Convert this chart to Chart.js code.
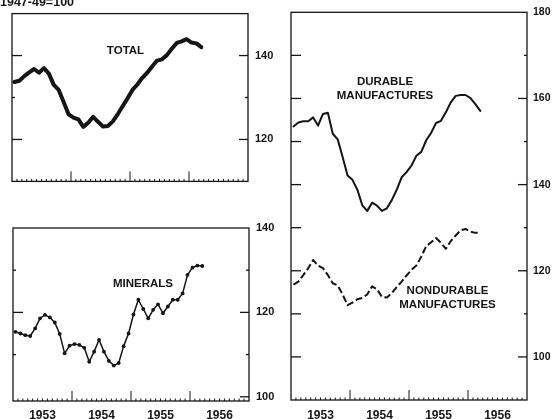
<!DOCTYPE html>
<html>
<head>
<meta charset="utf-8">
<script src="https://cdn.jsdelivr.net/npm/chart.js@4.4.1/dist/chart.umd.min.js"></script>
<style>
  body { margin: 0; background: #fff; }
  #wrap { position: relative; width: 554px; height: 419px; overflow: hidden; background: #fff; }
  canvas { position: absolute; }
</style>
</head>
<body>
<div id="wrap">
  <canvas id="totalChart" width="280" height="195" style="left:0;top:0"></canvas>
  <canvas id="mineralsChart" width="280" height="219" style="left:0;top:200px"></canvas>
  <canvas id="mfgChart" width="274" height="419" style="left:280px;top:0"></canvas>
</div>
<script>
// Monthly index values, Jan 1953 - Mar 1956 (1947-49=100)
const yearLabels = ["1953", "1954", "1955", "1956"];

const totalValues = [133.7, 134.0, 135.1, 136.0, 136.8, 135.9, 137.0, 135.7, 133.0, 131.8,
    128.9, 126.0, 125.2, 124.8, 123.0, 124.0, 125.4, 124.2, 123.1, 123.2,
    124.3, 126.0, 127.9, 129.8, 131.8, 133.1, 134.7, 135.9, 137.4, 138.8,
    139.1, 140.1, 141.6, 143.0, 143.4, 143.9, 143.1, 142.9, 142.0];

const mineralsValues = [115.4, 115.0, 114.6, 114.4, 116.2, 118.6, 119.4, 118.8, 117.6, 114.9,
    110.3, 112.1, 112.5, 112.3, 111.6, 108.3, 110.7, 113.5, 110.7, 108.5,
    107.4, 108.0, 112.0, 115.0, 119.5, 123.0, 120.8, 118.6, 120.6, 121.9,
    119.8, 121.4, 123.0, 123.0, 124.5, 128.9, 130.6, 131.1, 131.0];

const durableValues = [153.5, 154.4, 154.7, 154.7, 155.6, 153.7, 156.4, 156.7, 151.8, 150.5,
    146.4, 142.1, 141.1, 138.8, 135.2, 133.9, 135.8, 135.1, 133.9, 134.5,
    136.4, 138.8, 141.7, 142.9, 144.4, 146.7, 147.6, 150.3, 152.0, 154.3,
    154.8, 156.8, 159.1, 160.6, 160.8, 160.8, 160.1, 158.7, 157.1];

const nondurableValues = [116.8, 117.5, 119.0, 120.6, 122.5, 121.2, 120.6, 119.0, 117.1, 116.6,
    114.5, 112.0, 112.6, 113.4, 113.7, 114.5, 116.4, 115.7, 113.9, 113.8,
    114.8, 116.2, 117.5, 118.9, 120.2, 121.2, 123.3, 125.7, 126.6, 127.6,
    126.5, 125.1, 126.9, 128.2, 129.4, 129.7, 129.1, 128.8, 128.8];

// axis ticks
const totalTicks = [120, 140];
const totalMinor = [130];
const mineralsTicks = [100, 120, 140];
const mineralsMinor = [110, 130];
const mfgTicks = [100, 120, 140, 160, 180];
const mfgMinor = [110, 130, 150, 170];

const ink = "#151515";
const MONTHS = 48;

// plot each month at its middle
function toPoints(values) {
    return values.map((v, i) => ({ x: i + 0.5, y: v }));
}

const panelDecor = {
    id: "panelDecor",
    afterDraw(chart, args, opts) {
        const { ctx, chartArea: a, scales: { x, y } } = chart;
        ctx.save();
        ctx.strokeStyle = ink;
        ctx.lineWidth = 1.3;
        ctx.strokeRect(a.left, a.top, a.right - a.left, a.bottom - a.top);

        const seg = (x0, y0, x1, y1) => {
            ctx.beginPath();
            ctx.moveTo(x0, y0);
            ctx.lineTo(x1, y1);
            ctx.stroke();
        };
        (opts.leftLong || []).forEach(v => { const p = y.getPixelForValue(v); seg(a.left, p, a.left + 10, p); });
        (opts.leftShort || []).forEach(v => { const p = y.getPixelForValue(v); seg(a.left, p, a.left + 3, p); });
        (opts.rightLong || []).forEach(v => { const p = y.getPixelForValue(v); seg(a.right, p, a.right - 9, p); });
        (opts.rightShort || []).forEach(v => { const p = y.getPixelForValue(v); seg(a.right, p, a.right - 3, p); });

        ctx.lineWidth = 1;
        for (let m = 1; m < MONTHS; m++) {
            const p = x.getPixelForValue(m);
            seg(p, a.bottom, p, a.bottom - (m % 12 === 0 ? 10 : 2.5));
        }

        ctx.fillStyle = ink;
        ctx.font = "bold 11.5px 'Liberation Sans', Arial, sans-serif";
        ctx.textAlign = "center";
        ctx.textBaseline = "middle";
        (opts.notes || []).forEach(n => ctx.fillText(n.text, n.x, n.y));
        if (opts.caption) {
            ctx.font = "bold 12.5px 'Liberation Sans', Arial, sans-serif";
            ctx.textAlign = "left";
            ctx.textBaseline = "alphabetic";
            ctx.fillText(opts.caption, 0, 5.5);
        }
        ctx.restore();
    }
};

function makeChart(id, cfg) {
    const xAxis = {
        type: "linear",
        min: 0,
        max: MONTHS,
        display: cfg.showYears,
        grid: { display: false, drawTicks: false },
        border: { display: false },
        afterBuildTicks: s => { s.ticks = yearLabels.map((_, k) => ({ value: k * 12 + 6 })); },
        afterFit: s => { s.height = cfg.xHeight; },
        ticks: {
            autoSkip: false,
            maxRotation: 0,
            padding: cfg.xPad,
            color: ink,
            font: { family: "'Liberation Sans', Arial, sans-serif", size: 12, weight: "bold" },
            callback: v => yearLabels[Math.floor(v / 12)]
        }
    };
    const yAxis = {
        position: "right",
        min: cfg.yMin,
        max: cfg.yMax,
        grid: { display: false, drawTicks: false },
        border: { display: false },
        afterBuildTicks: s => { s.ticks = cfg.yTicks.map(v => ({ value: v })); },
        afterFit: s => { s.width = cfg.yWidth; },
        ticks: {
            padding: cfg.yPad,
            color: ink,
            font: { family: "'Liberation Sans', Arial, sans-serif", size: cfg.yFont, weight: "bold" }
        }
    };
    return new Chart(document.getElementById(id), {
        type: "line",
        data: { datasets: cfg.datasets },
        options: {
            responsive: false,
            animation: false,
            devicePixelRatio: 1,
            layout: { padding: cfg.padding },
            scales: { x: xAxis, y: yAxis },
            plugins: {
                legend: { display: false },
                tooltip: { enabled: false },
                panelDecor: cfg.decor
            }
        },
        plugins: [panelDecor]
    });
}

const lineBase = { borderColor: ink, pointRadius: 0, tension: 0, borderJoinStyle: "round", borderCapStyle: "round" };

makeChart("totalChart", {
    showYears: false, xHeight: 0, xPad: 0,
    yMin: 110, yMax: 150, yTicks: totalTicks, yWidth: 32, yPad: 7, yFont: 11,
    padding: { left: 12, top: 11, right: 0, bottom: 12 },
    datasets: [{ ...lineBase, label: "Total", data: toPoints(totalValues), borderWidth: 4 }],
    decor: {
        leftLong: totalTicks, leftShort: totalMinor, rightLong: totalTicks, rightShort: totalMinor,
        notes: [{ text: "TOTAL", x: 125.5, y: 51 }],
        caption: "1947-49=100"
    }
});

makeChart("mineralsChart", {
    showYears: true, xHeight: 18, xPad: 7,
    yMin: 99, yMax: 140, yTicks: mineralsTicks, yWidth: 31, yPad: 7, yFont: 11,
    padding: { left: 13, top: 28, right: 0, bottom: 0 },
    datasets: [{
        ...lineBase, label: "Minerals", data: toPoints(mineralsValues), borderWidth: 1.5,
        pointRadius: 1.9, pointBackgroundColor: ink, pointBorderWidth: 0
    }],
    decor: {
        leftLong: [120], leftShort: mineralsMinor, rightLong: [120, 100], rightShort: mineralsMinor,
        notes: [{ text: "MINERALS", x: 143, y: 84 }]
    }
});

makeChart("mfgChart", {
    showYears: true, xHeight: 19, xPad: 8,
    yMin: 90, yMax: 180, yTicks: mfgTicks, yWidth: 27, yPad: 6, yFont: 10.5,
    padding: { left: 11, top: 9, right: 0, bottom: 0 },
    datasets: [
        { ...lineBase, label: "Durable manufactures", data: toPoints(durableValues), borderWidth: 2 },
        { ...lineBase, label: "Nondurable manufactures", data: toPoints(nondurableValues), borderWidth: 2, borderDash: [7, 3], borderCapStyle: "butt" }
    ],
    decor: {
        leftLong: [100, 110, 120, 130, 140, 150, 160, 170], rightLong: [100, 120, 140, 160], rightShort: mfgMinor,
        notes: [
            { text: "DURABLE", x: 105, y: 82 },
            { text: "MANUFACTURES", x: 105, y: 96 },
            { text: "NONDURABLE", x: 167.5, y: 291 },
            { text: "MANUFACTURES", x: 167.5, y: 305 }
        ]
    }
});
</script>
</body>
</html>
